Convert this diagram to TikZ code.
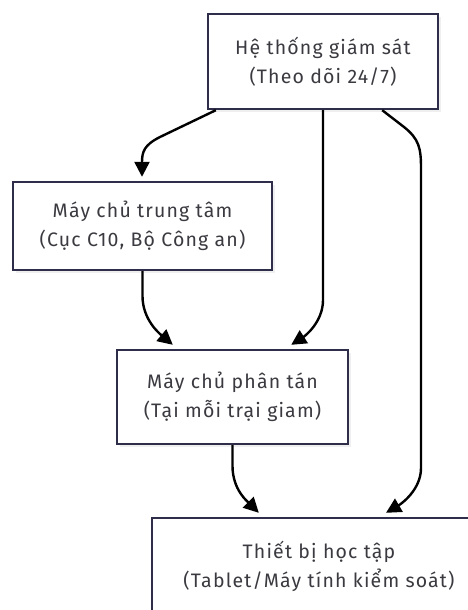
\documentclass[tikz,border=0pt]{standalone}
\usepackage{fontspec}
\setmainfont[LetterSpace=6]{Fira Sans}
\usetikzlibrary{arrows.meta,shadows}
\definecolor{boxline}{HTML}{2F2E4A}
\definecolor{txt}{HTML}{3A3A40}
\tikzset{
  box/.style={draw=boxline, line width=2.4pt, fill=white, rectangle, align=center,
    text=txt, font=\fontsize{19.5}{29}\selectfont, inner sep=0pt,
    drop shadow={shadow xshift=3pt, shadow yshift=-3pt, opacity=0.12, fill=gray}},
  edge/.style={draw=black, line width=2.4pt, -{Triangle[length=15pt,width=15pt]}}
}
\begin{document}
\begin{tikzpicture}[x=1pt,y=-1pt]
\clip (0,0) rectangle (468,610);
\fill[white] (0,0) rectangle (468,610);
\node[box, minimum width=230pt, minimum height=95pt] (b1) at (323,61.5) {Hệ thống giám sát\\(Theo dõi 24/7)};
\node[box, minimum width=259pt, minimum height=88pt] (b2) at (142.5,226) {Máy chủ trung tâm\\(Cục C10, Bộ Công an)};
\node[box, minimum width=231pt, minimum height=94pt] (b3) at (232.5,397) {Máy chủ phân tán\\(Tại mỗi trại giam)};
\node[box, minimum width=334pt, minimum height=96pt] (b4) at (319,566) {Thiết bị học tập\\(Tablet/Máy tính kiểm soát)};
% edges
\draw[edge] ([xshift=9pt]b1.south west) -- (160,137) .. controls (144,145) and (142,152) .. ([xshift=-0.5pt,yshift=4pt]b2.north);
\draw[edge] (b1.south) -- (323,300) .. controls (323,322) and (305,336) .. ([xshift=-58pt,yshift=4pt]b3.north east);
\draw[edge] ([xshift=-57pt]b1.south east) -- (404,127) .. controls (419,139) and (421,148) .. (421,168) -- (421,468) .. controls (421,490) and (401,504) .. ([xshift=67pt,yshift=4pt]b4.north);
\draw[edge] (b2.south) -- (142.5,296) .. controls (142.5,320) and (160,334) .. ([xshift=57pt,yshift=4pt]b3.north west);
\draw[edge] (b3.south) -- (232.5,466) .. controls (232.5,490) and (248,502) .. ([xshift=108pt,yshift=4pt]b4.north west);
\end{tikzpicture}
\end{document}
